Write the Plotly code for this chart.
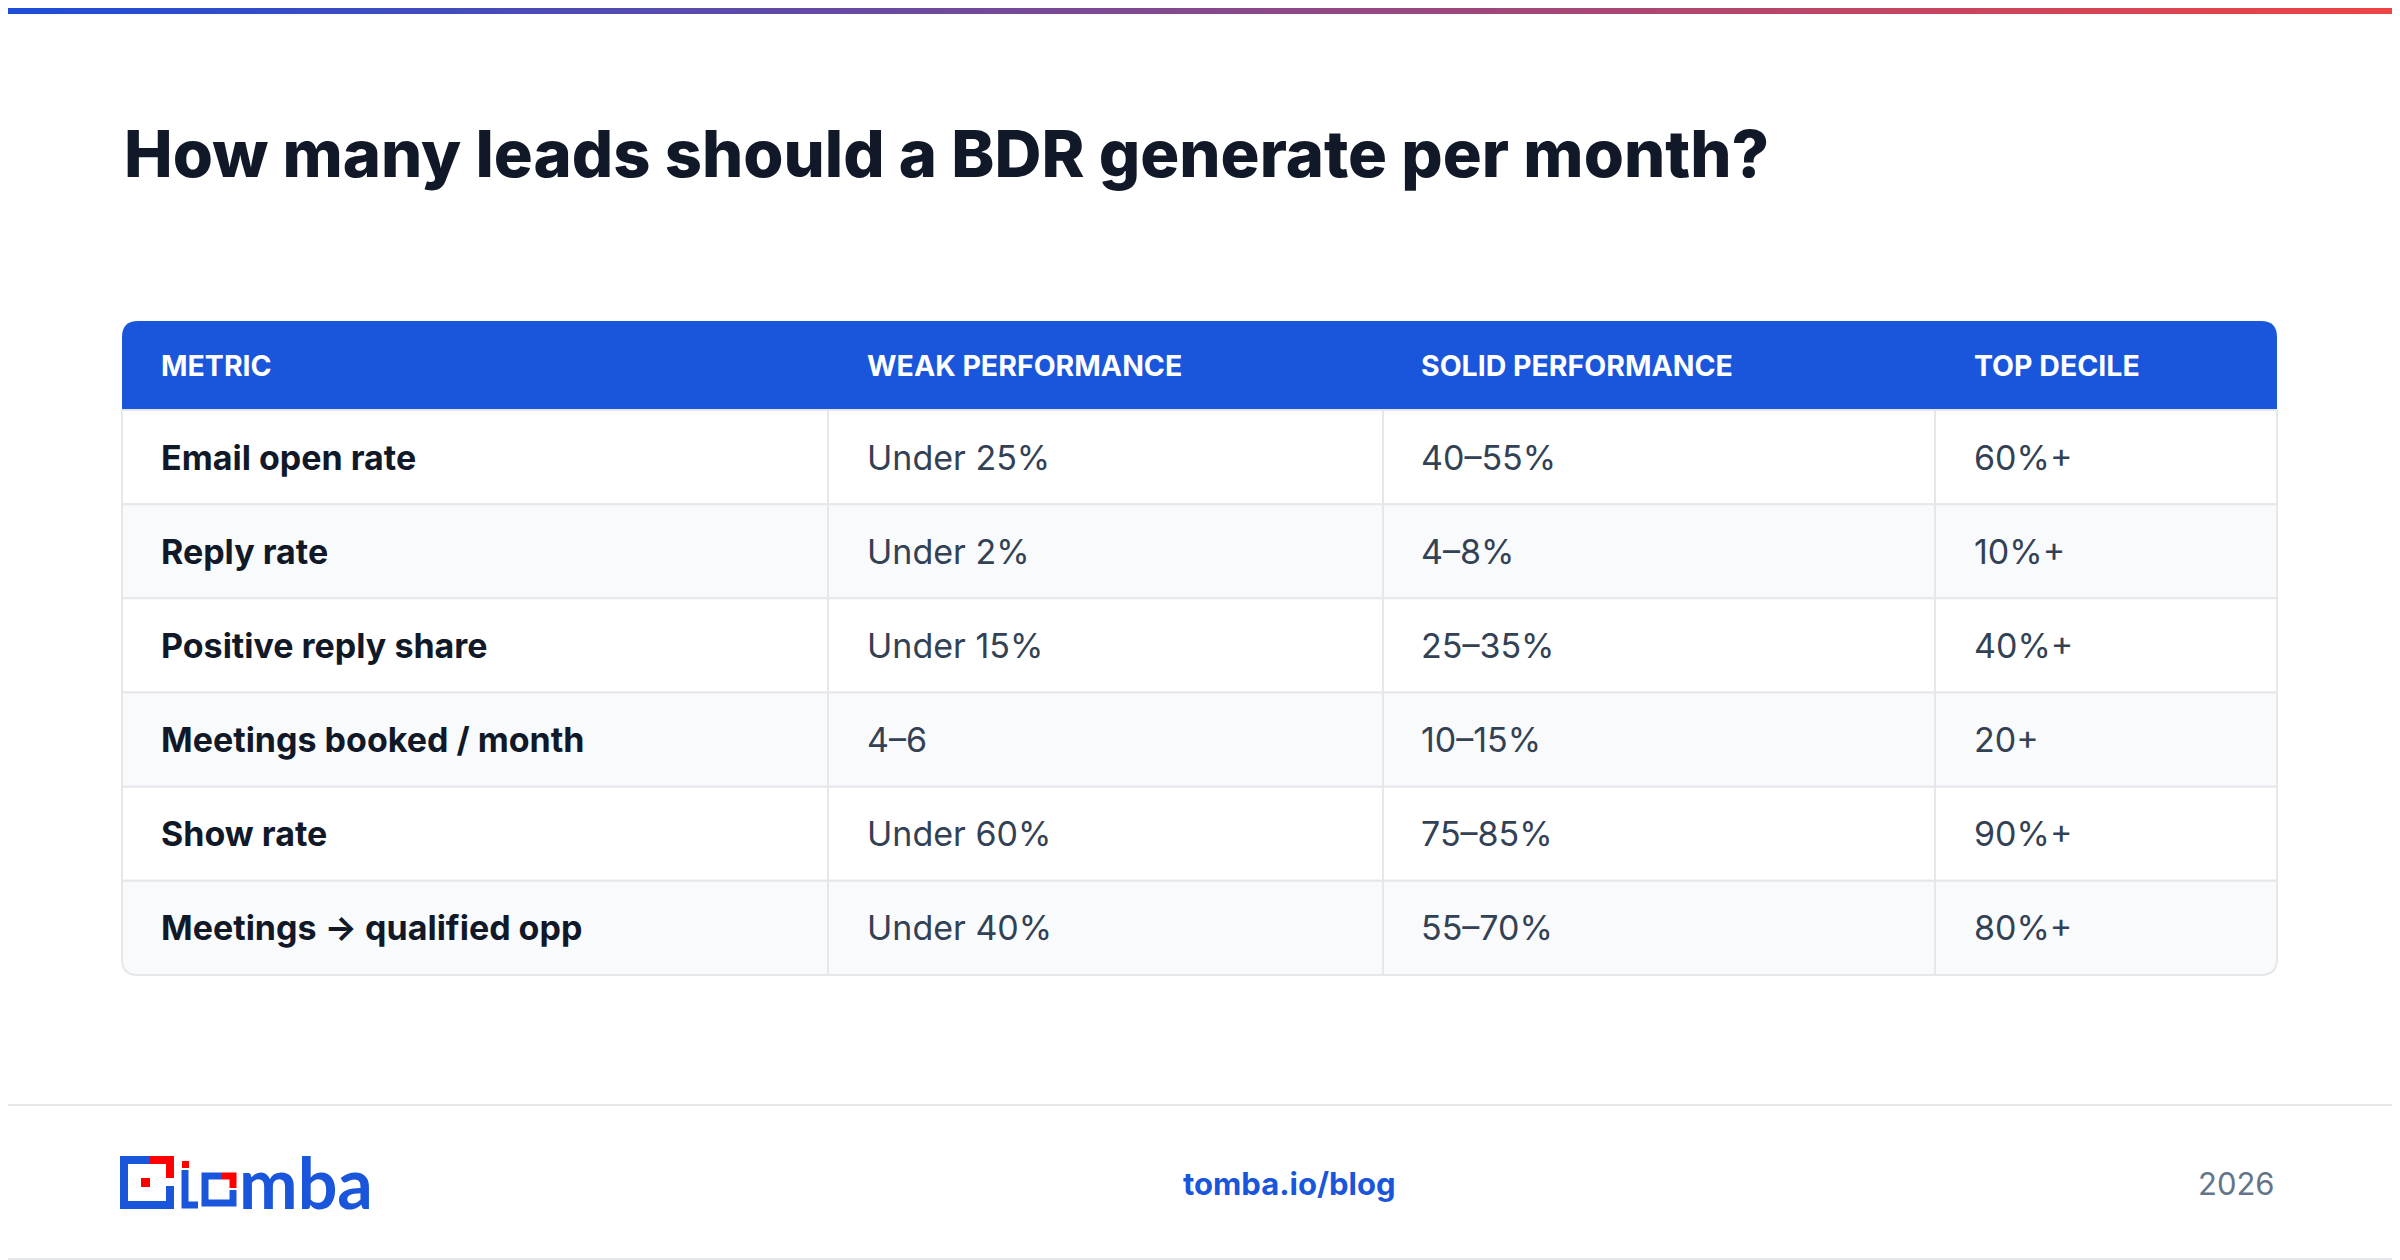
import plotly.graph_objects as go
import re

title = "How many leads should a BDR generate per month?"
headers = ["METRIC", "WEAK PERFORMANCE", "SOLID PERFORMANCE", "TOP DECILE"]
metrics = ["Email open rate", "Reply rate", "Positive reply share",
           "Meetings booked / month", "Show rate", "Meetings → qualified opp"]
weak = ["Under 25%", "Under 2%", "Under 15%", "4–6", "Under 60%", "Under 40%"]
solid = ["40–55%", "4–8%", "25–35%", "10–15%", "75–85%", "55–70%"]
top = ["60%+", "10%+", "40%+", "20+", "90%+", "80%+"]
footer_url = "tomba.io/blog"
footer_year = "2026"

W, H = 2400, 1260
BLUE = "#1a56db"
FONT = "Inter"
D = 8  # page offset correction

fig = go.Figure()
shapes = []
ann = []

c1 = (0x1d, 0x4e, 0xd8); c2 = (0xef, 0x44, 0x44)
N = 120
for i in range(N):
    t = i / (N - 1)
    c = tuple(int(c1[k] + (c2[k] - c1[k]) * t) for k in range(3))
    shapes.append(dict(type="rect", x0=W * i / N - D, x1=W * (i + 1) / N + 1 - D, y0=-D, y1=12 - D + 2,
                       fillcolor="rgb(%d,%d,%d)" % c, line_width=0, layer="above"))
shapes.append(dict(type="rect", x0=1 - D, x1=W - 1 - D, y0=1 - D, y1=H - 1 - D, line=dict(color="#e5e7eb", width=2)))

ann.append(dict(x=122 - D, y=153 - D, text=title, showarrow=False, xanchor="left", yanchor="middle",
                font=dict(family=FONT, size=65, color="#111827", weight=800)))

L, R, T, B = 122 - D, 2277 - D, 321 - D, 975 - D
HH = 89
rows = len(metrics)
rh = (B - T - HH) / rows
rad = 16
colx = [L, 828 - D, 1383 - D, 1935 - D, R]
textx = [159 - D, 865 - D, 1419 - D, 1972 - D]

shapes.append(dict(type="path",
                   path=f"M {L},{T+HH} L {L},{T+rad} Q {L},{T} {L+rad},{T} L {R-rad},{T} Q {R},{T} {R},{T+rad} L {R},{T+HH} Z",
                   fillcolor=BLUE, line_width=0))
for j, h in enumerate(headers):
    ann.append(dict(x=textx[j], y=T + HH / 2, text="<b>%s</b>" % h, showarrow=False, xanchor="left",
                    yanchor="middle", font=dict(family=FONT, size=28.5, color="white")))
cols = [metrics, weak, solid, top]
for i in range(rows):
    y0 = T + HH + i * rh
    y1 = y0 + rh
    fill = "#ffffff" if i % 2 == 0 else "#f8fafc"
    if i == rows - 1:
        path = f"M {L},{y0} L {R},{y0} L {R},{y1-rad} Q {R},{y1} {R-rad},{y1} L {L+rad},{y1} Q {L},{y1} {L},{y1-rad} Z"
        shapes.append(dict(type="path", path=path, fillcolor=fill, line=dict(color="#e5e7eb", width=2)))
    else:
        shapes.append(dict(type="rect", x0=L, x1=R, y0=y0, y1=y1, fillcolor=fill,
                           line=dict(color="#e5e7eb", width=2)))
    for j in range(4):
        txt = cols[j][i]
        if j == 0:
            txt = "<b>%s</b>" % txt
        ann.append(dict(x=textx[j], y=(y0 + y1) / 2, text=txt, showarrow=False, xanchor="left",
                        yanchor="middle", font=dict(family=FONT, size=34,
                                                    color="#111827" if j == 0 else "#334155")))
for x in colx[1:4]:
    shapes.append(dict(type="line", x0=x, x1=x, y0=T + HH, y1=B, line=dict(color="#e5e7eb", width=2)))

shapes.append(dict(type="line", x0=-D, x1=W, y0=1105 - D, y1=1105 - D, line=dict(color="#e5e7eb", width=2)))
ann.append(dict(x=1289 - D, y=1183 - D, text="<b>%s</b>" % footer_url, showarrow=False, xanchor="center",
                yanchor="middle", font=dict(family=FONT, size=31, color=BLUE)))
ann.append(dict(x=2277 - D, y=1183 - D, text=footer_year, showarrow=False, xanchor="right",
                yanchor="middle", font=dict(family=FONT, size=31, color="#64748b")))

LB = "#1a56db"; RED = "#ff0000"
logo = [
    ("M 168,1160 L 124,1160 L 124,1205 L 170,1205 L 170,1186", LB, 8),
    ("M 150,1160 L 170,1160 L 170,1178", RED, 8),
    ("M 185,1170 L 185,1205 L 198,1205", LB, 7),
    ("M 222,1176 L 205,1176 L 205,1203 L 233,1203 L 233,1190", LB, 7),
    ("M 222,1176 L 233,1176 L 233,1188", RED, 7),
]
for path, col, w in logo:
    nums = re.findall(r"(\d+),(\d+)", path)
    newp = " ".join(("M" if k == 0 else "L") + f" {int(a)-D},{int(b)-D}" for k, (a, b) in enumerate(nums))
    shapes.append(dict(type="path", path=newp, line=dict(color=col, width=w), fillcolor="rgba(0,0,0,0)"))
shapes.append(dict(type="rect", x0=141 - D, x1=150 - D, y0=1178 - D, y1=1187 - D, fillcolor=RED, line_width=0))
shapes.append(dict(type="rect", x0=182 - D, x1=189 - D, y0=1161 - D, y1=1168 - D, fillcolor=RED, line_width=0))
ann.append(dict(x=237 - D, y=1182 - D, text="<b>mba</b>", showarrow=False, xanchor="left", yanchor="middle",
                font=dict(family="Lato", size=70, color=LB)))

fig.update_layout(width=W, height=H, margin=dict(l=0, r=0, t=0, b=0),
                  paper_bgcolor="white", plot_bgcolor="white",
                  xaxis=dict(range=[0, W], visible=False, fixedrange=True),
                  yaxis=dict(range=[H, 0], visible=False, fixedrange=True),
                  shapes=shapes, annotations=ann, showlegend=False)
fig.write_html("out.html")
